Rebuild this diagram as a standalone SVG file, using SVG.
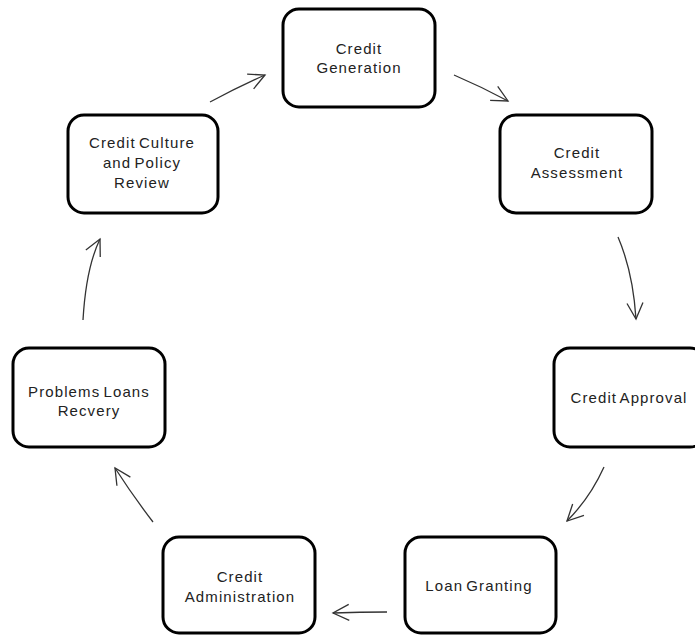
<svg xmlns="http://www.w3.org/2000/svg" width="695" height="635" viewBox="0 0 695 635">
<style>
.box{fill:#fff;stroke:#000;stroke-width:3}
.lbl{font-family:"Liberation Sans",Arial,sans-serif;font-size:15px;letter-spacing:1.1px;word-spacing:-2px;fill:#222;text-anchor:middle}
.con{fill:none;stroke:#333;stroke-width:1.3;marker-end:url(#ah)}
</style>
<defs>
<marker id="ah" markerUnits="userSpaceOnUse" markerWidth="24" markerHeight="24" refX="0" refY="0" viewBox="-20 -12 24 24" orient="auto" overflow="visible">
<path d="M-16,-8 L0,0 L-16,8" fill="none" stroke="#333" stroke-width="1.3"/>
</marker>
</defs>
<rect width="695" height="635" fill="#fff"/>
<g id="connectors">
<path class="con" d="M210,102 Q238,87 265,75"/>
<path class="con" d="M454,75 Q482,87 508,101"/>
<path class="con" d="M618,237 Q633,272 636,319"/>
<path class="con" d="M604,467 Q590,498 567,521"/>
<path class="con" d="M387,612 Q360,612 333,613"/>
<path class="con" d="M153,522 Q133,496 115,468"/>
<path class="con" d="M83,320 Q86,268 100,239"/>
</g>
<g id="credit-generation">
<rect class="box" x="283" y="9" width="152" height="98" rx="16"/>
<text class="lbl" x="359" y="54">Credit</text>
<text class="lbl" x="359" y="73">Generation</text>
</g>
<g id="credit-assessment">
<rect class="box" x="500" y="115" width="152" height="98" rx="16"/>
<text class="lbl" x="577" y="158">Credit</text>
<text class="lbl" x="577" y="178">Assessment</text>
</g>
<g id="credit-approval">
<rect class="box" x="554" y="348" width="152" height="99" rx="16"/>
<text class="lbl" x="629" y="403">Credit Approval</text>
</g>
<g id="loan-granting">
<rect class="box" x="405" y="537" width="151" height="96" rx="16"/>
<text class="lbl" x="479" y="591">Loan Granting</text>
</g>
<g id="credit-administration">
<rect class="box" x="163" y="537" width="152" height="96" rx="16"/>
<text class="lbl" x="240" y="582">Credit</text>
<text class="lbl" x="240" y="602">Administration</text>
</g>
<g id="problems-loans-recovery">
<rect class="box" x="13" y="348" width="152" height="99" rx="16"/>
<text class="lbl" x="89" y="397">Problems Loans</text>
<text class="lbl" x="89" y="416">Recvery</text>
</g>
<g id="credit-culture">
<rect class="box" x="68" y="115" width="150" height="98" rx="16"/>
<text class="lbl" x="142" y="148">Credit Culture</text>
<text class="lbl" x="142" y="168">and Policy</text>
<text class="lbl" x="142" y="188">Review</text>
</g>
</svg>
